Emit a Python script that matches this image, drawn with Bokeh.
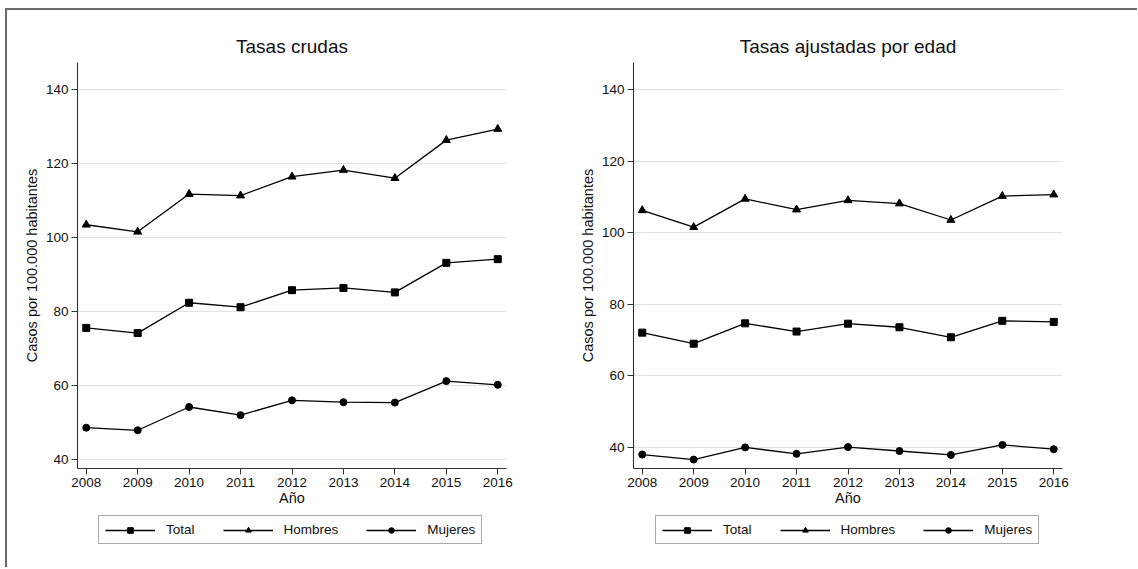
from bokeh.plotting import figure
from bokeh.layouts import row, column
from bokeh.models import Range1d, FixedTicker, Legend, LegendItem
from bokeh.embed import file_html
from bokeh.resources import INLINE

years = [2008, 2009, 2010, 2011, 2012, 2013, 2014, 2015, 2016]

crude_total = [75.6, 74.2, 82.4, 81.2, 85.8, 86.4, 85.2, 93.2, 94.2]
crude_hombres = [103.5, 101.6, 111.8, 111.4, 116.5, 118.3, 116.1, 126.4, 129.4]
crude_mujeres = [48.6, 47.9, 54.2, 52.0, 56.0, 55.5, 55.4, 61.2, 60.2]

adj_total = [72.0, 68.9, 74.6, 72.3, 74.5, 73.5, 70.7, 75.3, 75.0]
adj_hombres = [106.2, 101.5, 109.4, 106.4, 109.0, 108.1, 103.5, 110.2, 110.6]
adj_mujeres = [37.9, 36.5, 39.9, 38.1, 40.0, 38.9, 37.8, 40.6, 39.4]

y_ticks = [40, 60, 80, 100, 120, 140]
series_labels = ["Total", "Hombres", "Mujeres"]
markers = ["square", "triangle", "circle"]

FONT = "Liberation Sans"
TXT = "#111111"


def style_line(fig, xs, ys):
    return fig.line(xs, ys, line_color="black", line_width=1.3)


def style_marker(fig, xs, ys, mk):
    size = 8 if mk == "triangle" else 7
    return fig.scatter(xs, ys, marker=mk, size=size, fill_color="black", line_color="black")


def make_panel(title, series, y_start, y_end, width, height, mb_left, mb_right, leg_x):
    p = figure(width=width, height=height, output_backend="svg", toolbar_location=None,
               x_range=Range1d(2007.83, 2016.17), y_range=Range1d(y_start, y_end),
               min_border_left=mb_left, min_border_right=mb_right,
               min_border_top=52, min_border_bottom=height - 458)
    p.outline_line_color = None
    p.background_fill_color = "white"
    p.border_fill_color = "white"

    p.title.text = title
    p.title.text_font = FONT
    p.title.text_font_size = "19px"
    p.title.text_font_style = "normal"
    p.title.text_color = TXT
    p.title.align = "center"
    p.title.standoff = 11

    p.xgrid.grid_line_color = None
    p.ygrid.grid_line_color = "#e2e2e2"
    p.ygrid.grid_line_width = 1.2

    for ax in (p.xaxis[0], p.yaxis[0]):
        ax.axis_line_color = "#333333"
        ax.axis_line_width = 1.1
        ax.major_tick_line_color = "#333333"
        ax.major_tick_out = 6
        ax.major_tick_in = 0
        ax.minor_tick_line_color = None
        ax.major_label_text_font = FONT
        ax.major_label_text_font_size = "13.5px"
        ax.major_label_text_color = TXT
        ax.axis_label_text_font = FONT
        ax.axis_label_text_font_size = "14.5px"
        ax.axis_label_text_font_style = "normal"
        ax.axis_label_text_color = TXT

    p.xaxis.ticker = FixedTicker(ticks=years)
    p.yaxis.ticker = FixedTicker(ticks=y_ticks)
    p.xaxis.axis_label = "Año"
    p.xaxis.axis_label_standoff = 0
    p.xaxis.major_label_standoff = 3
    p.yaxis.axis_label = "Casos por 100.000 habitantes"
    p.yaxis.axis_label_standoff = 3
    p.yaxis.major_label_standoff = 3

    for mk, vals in zip(markers, series):
        style_line(p, years, vals)
        style_marker(p, years, vals, mk)

    # legend strip below the chart (its frame is aligned with the chart frame)
    lg = figure(width=width, height=54, output_backend="svg", toolbar_location=None,
                x_range=Range1d(0, 1), y_range=Range1d(0, 1),
                x_axis_location=None, y_axis_location=None,
                min_border_left=mb_left, min_border_right=mb_right,
                min_border_top=0, min_border_bottom=0)
    lg.outline_line_color = None
    lg.xgrid.grid_line_color = None
    lg.ygrid.grid_line_color = None
    lg.background_fill_color = "white"
    lg.border_fill_color = "white"
    items = []
    for lab, mk, vals in zip(series_labels, markers, series):
        # same series, outside this strip's visible range: only the legend keys show
        lr = style_line(lg, years, vals)
        sr = style_marker(lg, years, vals, mk)
        items.append(LegendItem(label=lab, renderers=[lr, sr]))

    legend = Legend(items=items, orientation="horizontal", location=(leg_x, 23))
    legend.margin = 0
    legend.padding = 6
    legend.spacing = 28
    legend.glyph_width = 50
    legend.glyph_height = 14
    legend.label_height = 14
    legend.label_standoff = 11
    legend.label_text_font = FONT
    legend.label_text_font_size = "13.5px"
    legend.label_text_color = TXT
    legend.border_line_color = "#555555"
    legend.border_line_width = 1.5
    legend.background_fill_color = "white"
    lg.add_layout(legend, "center")
    return column(p, lg)


c1 = make_panel("Tasas crudas", [crude_total, crude_hombres, crude_mujeres],
                37.56, 147.4, 561, 503, 70, 62, 21)
c2 = make_panel("Tasas ajustadas por edad", [adj_total, adj_hombres, adj_mujeres],
                34.0, 147.55, 562, 503, 65, 68, 22)

layout = row(c1, c2, styles={"margin-left": "5px", "margin-top": "8px",
                             "padding-right": "7px",
                             "border-top": "2px solid #6a6a6a",
                             "border-left": "2px solid #6a6a6a"})

open("out.html", "w").write(file_html(layout, INLINE))
